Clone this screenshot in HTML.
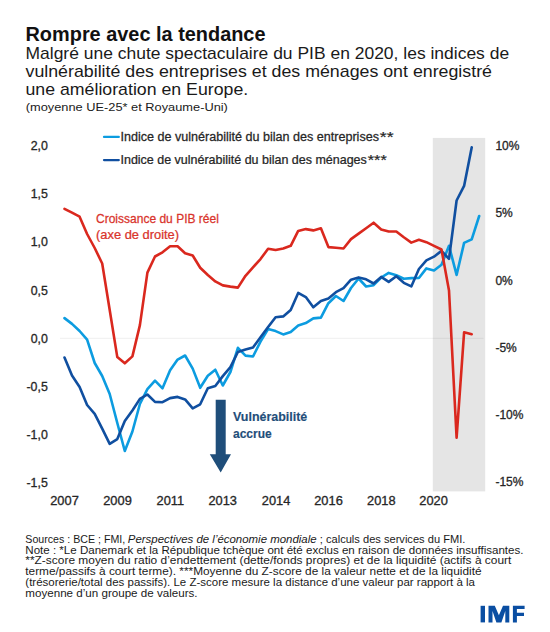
<!DOCTYPE html>
<html><head><meta charset="utf-8"><style>
html,body{margin:0;padding:0;background:#fff;width:550px;height:632px;overflow:hidden}
svg{display:block;font-family:"Liberation Sans",sans-serif}
</style></head><body>
<svg width="550" height="632" viewBox="0 0 550 632">
<text transform="translate(25.5 40.9) scale(0.948 1)" font-size="21" font-weight="bold" fill="#111">Rompre avec la tendance</text>
<text transform="translate(25.5 58.8) scale(1.092 1)" font-size="16" fill="#1a1a1a">Malgré une chute spectaculaire du PIB en 2020, les indices de</text>
<text transform="translate(25.5 76.9) scale(1.112 1)" font-size="16" fill="#1a1a1a">vulnérabilité des entreprises et des ménages ont enregistré</text>
<text transform="translate(25.5 94.7) scale(1.109 1)" font-size="16" fill="#1a1a1a">une amélioration en Europe.</text>
<text transform="translate(25.8 111.2) scale(1.281 1)" font-size="10" fill="#1a1a1a">(moyenne UE-25* et Royaume-Uni)</text>
<rect x="432.8" y="137.9" width="52.4" height="353.5" fill="#e5e5e5"/>
<line x1="60" y1="338.4" x2="483.5" y2="338.4" stroke="#000" stroke-opacity="0.05" stroke-width="1.4"/>
<text transform="translate(47.8 150.2) scale(1.03 1)" stroke="#262626" stroke-width="0.3" font-size="12" text-anchor="end" fill="#262626">2,0</text>
<text transform="translate(47.8 198.3) scale(1.03 1)" stroke="#262626" stroke-width="0.3" font-size="12" text-anchor="end" fill="#262626">1,5</text>
<text transform="translate(47.8 246.4) scale(1.03 1)" stroke="#262626" stroke-width="0.3" font-size="12" text-anchor="end" fill="#262626">1,0</text>
<text transform="translate(47.8 294.5) scale(1.03 1)" stroke="#262626" stroke-width="0.3" font-size="12" text-anchor="end" fill="#262626">0,5</text>
<text transform="translate(47.8 342.6) scale(1.03 1)" stroke="#262626" stroke-width="0.3" font-size="12" text-anchor="end" fill="#262626">0,0</text>
<text transform="translate(47.8 390.7) scale(1.03 1)" stroke="#262626" stroke-width="0.3" font-size="12" text-anchor="end" fill="#262626">-0,5</text>
<text transform="translate(47.8 438.8) scale(1.03 1)" stroke="#262626" stroke-width="0.3" font-size="12" text-anchor="end" fill="#262626">-1,0</text>
<text transform="translate(47.8 486.9) scale(1.03 1)" stroke="#262626" stroke-width="0.3" font-size="12" text-anchor="end" fill="#262626">-1,5</text>
<text transform="translate(495.4 149.9) scale(1.0 1)" stroke="#262626" stroke-width="0.3" font-size="12" fill="#262626">10%</text>
<text transform="translate(495.4 217.2) scale(1.0 1)" stroke="#262626" stroke-width="0.3" font-size="12" fill="#262626">5%</text>
<text transform="translate(495.4 284.5) scale(1.0 1)" stroke="#262626" stroke-width="0.3" font-size="12" fill="#262626">0%</text>
<text transform="translate(495.4 351.8) scale(1.0 1)" stroke="#262626" stroke-width="0.3" font-size="12" fill="#262626">-5%</text>
<text transform="translate(495.4 419.1) scale(1.0 1)" stroke="#262626" stroke-width="0.3" font-size="12" fill="#262626">-10%</text>
<text transform="translate(495.4 486.4) scale(1.0 1)" stroke="#262626" stroke-width="0.3" font-size="12" fill="#262626">-15%</text>
<text transform="translate(64.5 504.7) scale(1.07 1)" stroke="#262626" stroke-width="0.3" font-size="12" text-anchor="middle" fill="#262626">2007</text>
<text transform="translate(117.5 504.7) scale(1.07 1)" stroke="#262626" stroke-width="0.3" font-size="12" text-anchor="middle" fill="#262626">2009</text>
<text transform="translate(170.3 504.7) scale(1.07 1)" stroke="#262626" stroke-width="0.3" font-size="12" text-anchor="middle" fill="#262626">2011</text>
<text transform="translate(222.7 504.7) scale(1.07 1)" stroke="#262626" stroke-width="0.3" font-size="12" text-anchor="middle" fill="#262626">2013</text>
<text transform="translate(276.1 504.7) scale(1.07 1)" stroke="#262626" stroke-width="0.3" font-size="12" text-anchor="middle" fill="#262626">2014</text>
<text transform="translate(328.5 504.7) scale(1.07 1)" stroke="#262626" stroke-width="0.3" font-size="12" text-anchor="middle" fill="#262626">2016</text>
<text transform="translate(381.3 504.7) scale(1.07 1)" stroke="#262626" stroke-width="0.3" font-size="12" text-anchor="middle" fill="#262626">2018</text>
<text transform="translate(433.6 504.7) scale(1.07 1)" stroke="#262626" stroke-width="0.3" font-size="12" text-anchor="middle" fill="#262626">2020</text>
<line x1="104" y1="136.9" x2="118.8" y2="136.9" stroke="#0c9ce0" stroke-width="2.25" stroke-linecap="round"/>
<line x1="104" y1="160" x2="118.8" y2="160" stroke="#104fa0" stroke-width="2.25" stroke-linecap="round"/>
<text transform="translate(120.5 140.9) scale(1.048 1)" stroke="#262626" stroke-width="0.25" font-size="12" fill="#262626">Indice de vulnérabilité du bilan des entreprises</text>
<text transform="translate(379.8 141.9) scale(1.18 1)" stroke="#262626" stroke-width="0.2" font-size="15" fill="#262626">**</text>
<text transform="translate(120.5 164) scale(1.041 1)" stroke="#262626" stroke-width="0.25" font-size="12" fill="#262626">Indice de vulnérabilité du bilan des ménages</text>
<text transform="translate(367.8 165) scale(1.08 1)" stroke="#262626" stroke-width="0.2" font-size="15" fill="#262626">***</text>
<text transform="translate(96 222.7) scale(1.0025 1)" stroke="#d9342c" stroke-width="0.25" font-size="12" fill="#d9342c">Croissance du PIB réel</text>
<text transform="translate(96 238.8) scale(1.075 1)" stroke="#d9342c" stroke-width="0.25" font-size="12" fill="#d9342c">(axe de droite)</text>
<polyline points="64.5,318.1 72.0,323.9 79.6,331.0 87.1,339.6 94.7,363.0 102.2,376.0 109.7,394.0 117.3,423.0 124.8,451.0 132.4,431.5 139.9,404.0 147.4,389.1 155.0,380.6 162.5,388.3 170.1,370.3 177.6,359.6 185.1,355.5 192.7,368.6 200.2,387.8 207.8,375.7 215.3,369.7 222.8,385.5 230.4,372.0 237.9,347.8 245.5,355.6 253.0,356.5 260.5,341.7 268.1,329.1 275.6,331.1 283.2,334.4 290.7,331.9 298.2,325.4 305.8,323.1 313.3,318.4 320.9,317.6 328.4,303.2 335.9,296.0 343.5,301.0 351.0,288.0 358.6,278.5 366.1,286.5 373.6,285.2 381.2,277.5 388.7,272.9 396.3,275.2 403.8,278.7 411.3,278.1 418.9,278.0 426.4,268.4 434.0,270.5 441.5,264.7 449.0,245.8 456.6,274.9 464.1,242.9 471.7,239.3 479.2,216.0" fill="none" stroke="#0c9ce0" stroke-width="2.6" stroke-linejoin="round" stroke-linecap="round"/>
<polyline points="64.5,357.5 72.0,375.5 79.6,387.0 87.1,405.0 94.7,413.8 102.2,428.7 109.7,443.9 117.3,439.1 124.8,420.9 132.4,410.5 139.9,398.9 147.4,394.5 155.0,401.9 162.5,402.2 170.1,398.1 177.6,396.9 185.1,399.4 192.7,408.4 200.2,404.3 207.8,388.3 215.3,386.0 222.8,376.1 230.4,367.1 237.9,352.0 245.5,349.6 253.0,347.5 260.5,337.3 268.1,327.0 275.6,317.2 283.2,316.4 290.7,310.0 298.2,292.9 305.8,297.1 313.3,307.3 320.9,301.0 328.4,298.5 335.9,292.2 343.5,288.2 351.0,279.7 358.6,277.4 366.1,279.3 373.6,283.5 381.2,276.9 388.7,281.9 396.3,276.3 403.8,282.8 411.3,286.4 418.9,269.0 426.4,260.4 434.0,256.7 441.5,250.9 449.0,258.9 456.6,200.5 464.1,185.9 471.7,147.4" fill="none" stroke="#104fa0" stroke-width="2.6" stroke-linejoin="round" stroke-linecap="round"/>
<polyline points="64.5,208.9 72.0,212.7 79.6,216.7 87.1,234.0 94.7,248.0 102.2,263.5 109.7,310.0 117.3,357.1 124.8,363.3 132.4,356.4 139.9,325.1 147.4,272.6 155.0,256.5 162.5,252.3 170.1,246.3 177.6,246.3 185.1,253.2 192.7,255.5 200.2,267.7 207.8,275.0 215.3,281.4 222.8,285.4 230.4,286.6 237.9,287.6 245.5,275.8 253.0,267.3 260.5,259.1 268.1,248.7 275.6,250.0 283.2,248.5 290.7,245.8 298.2,230.9 305.8,229.1 313.3,230.4 320.9,228.2 328.4,247.1 335.9,247.8 343.5,248.5 351.0,239.1 358.6,233.6 366.1,228.2 373.6,222.7 381.2,229.5 388.7,231.5 396.3,231.5 403.8,237.3 411.3,242.6 418.9,239.8 426.4,242.2 434.0,245.8 441.5,249.5 449.0,290.4 456.6,437.7 464.1,332.3 471.7,334.2" fill="none" stroke="#da281e" stroke-width="2.6" stroke-linejoin="round" stroke-linecap="round"/>
<path d="M215.7,399.8 H225.7 V454.3 H231 L220.7,472.5 L209.8,454.3 H215.7 Z" fill="#1f4e7a"/>
<text transform="translate(233 421.2) scale(1.038 1)" stroke="#1f4e7a" stroke-width="0.15" font-size="12" font-weight="bold" fill="#1f4e7a">Vulnérabilité</text>
<text transform="translate(233 437.5) scale(1.0 1)" stroke="#1f4e7a" stroke-width="0.15" font-size="12" font-weight="bold" fill="#1f4e7a">accrue</text>
<text transform="translate(25.3 553.7) scale(1.102 1)" font-size="10.5" fill="#1a1a1a">Note : *Le Danemark et la République tchèque ont été exclus en raison de données insuffisantes.</text>
<text transform="translate(25.3 564.4) scale(1.137 1)" font-size="10.5" fill="#1a1a1a">**Z-score moyen du ratio d’endettement (dette/fonds propres) et de la liquidité (actifs à court</text>
<text transform="translate(25.3 575.1) scale(1.129 1)" font-size="10.5" fill="#1a1a1a">terme/passifs à court terme). ***Moyenne du Z-score de la valeur nette et de la liquidité</text>
<text transform="translate(25.3 585.9) scale(1.096 1)" font-size="10.5" fill="#1a1a1a">(trésorerie/total des passifs). Le Z-score mesure la distance d’une valeur par rapport à la</text>
<text transform="translate(25.3 597.3) scale(1.106 1)" font-size="10.5" fill="#1a1a1a">moyenne d’un groupe de valeurs.</text>
<text transform="translate(25.3 542.8) scale(1.015 1)" font-size="10.5" fill="#1a1a1a">Sources : BCE ; FMI,</text>
<text transform="translate(127.8 542.8) scale(1.091 1)" font-size="10.5" font-style="italic" fill="#1a1a1a">Perspectives de l’économie mondiale</text>
<text transform="translate(319.8 542.8) scale(1.058 1)" font-size="10.5" fill="#1a1a1a">; calculs des services du FMI.</text>
<g fill="#0a4ea2"><rect x="480.6" y="605.8" width="4.4" height="16.6"/><path d="M488.5,605.8 H494.8 L498.9,615.3 L503,605.8 H509.3 V622.4 H505.3 V611 L501.4,622.4 H496.4 L492.5,611 V622.4 H488.5 Z"/><path d="M512.9,605.8 H524.6 V609.1 H516.9 V612.7 H524 V615.9 H516.9 V622.4 H512.9 Z"/></g>
</svg>
</body></html>
